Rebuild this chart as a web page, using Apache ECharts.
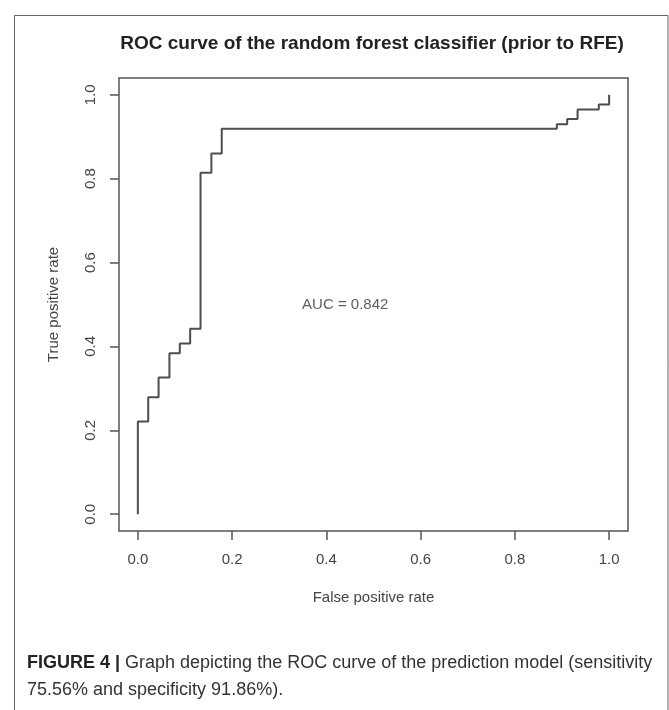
<!DOCTYPE html>
<html>
<head>
<meta charset="utf-8">
<script src="https://cdn.jsdelivr.net/npm/echarts@6/dist/echarts.min.js"></script>
<style>
html,body{margin:0;padding:0;background:#fff;}
#c{width:669px;height:710px;}
</style>
</head>
<body>
<div id="c"></div>
<script>
// ROC curve vertices (false positive rate, true positive rate), drawn as steps
var fpr = [0, 0, 0.022, 0.044, 0.067, 0.089, 0.111, 0.133, 0.156, 0.178, 0.889, 0.911, 0.933, 0.978, 1];
var tpr = [0, 0.221, 0.279, 0.326, 0.384, 0.407, 0.442, 0.814, 0.860, 0.919, 0.930, 0.942, 0.965, 0.977, 1];
var tickValues = [0, 0.2, 0.4, 0.6, 0.8, 1.0];
var aucLabel = 'AUC = 0.842';
var aucPos = [0.44, 0.5];
var titleText = 'ROC curve of the random forest classifier (prior to RFE)';
var xName = 'False positive rate';
var yName = 'True positive rate';
var captionBold = 'FIGURE 4 |';
var captionLine1 = ' Graph depicting the ROC curve of the prediction model (sensitivity';
var captionLine2 = '75.56% and specificity 91.86%).';

var rocData = fpr.map(function (x, i) { return [x, tpr[i]]; });
var ink = '#4d4d4d';
var txt = '#444';
var font = 'Liberation Sans, Arial, sans-serif';

var chart = echarts.init(document.getElementById('c'), null, {renderer: 'canvas'});
chart.setOption({
  backgroundColor: '#fff',
  animation: false,
  title: [{
    text: titleText,
    left: 372,
    top: 34,
    padding: 0,
    textAlign: 'center',
    textStyle: {fontFamily: font, fontWeight: 'bold', fontSize: 19, color: '#222'}
  }, {
    text: '{b|' + captionBold + '}{r|' + captionLine1 + '}\n{r|' + captionLine2 + '}',
    left: 27,
    top: 650,
    padding: 0,
    textStyle: {
      rich: {
        b: {fontFamily: font, fontWeight: 'bold', fontSize: 18, color: '#222', lineHeight: 27},
        r: {fontFamily: font, fontWeight: 'normal', fontSize: 18, color: '#333', lineHeight: 27}
      }
    }
  }],
  graphic: [{
    type: 'polyline',
    silent: true,
    shape: {points: [[14.5, 711], [14.5, 15.5], [668, 15.5], [668, 711]]},
    style: {stroke: '#666', lineWidth: 1, fill: null}
  }],
  grid: {
    left: 119, right: 41, top: 78, bottom: 179,
    show: true, borderColor: '#555', borderWidth: 1.5, backgroundColor: 'transparent'
  },
  xAxis: {
    type: 'value', min: -0.04, max: 1.04,
    splitLine: {show: false},
    axisLine: {show: false, onZero: false},
    axisTick: {show: true, inside: false, customValues: tickValues, length: 9, lineStyle: {color: '#555', width: 1.5}},
    axisLabel: {customValues: tickValues, margin: 21, fontSize: 15, fontFamily: font, color: txt,
      formatter: function (v) { return v.toFixed(1); }},
    name: xName, nameLocation: 'middle', nameGap: 59,
    nameTextStyle: {fontSize: 15, fontFamily: font, color: txt}
  },
  yAxis: {
    type: 'value', min: -0.04, max: 1.04,
    splitLine: {show: false},
    axisLine: {show: false, onZero: false},
    axisTick: {show: true, inside: false, customValues: tickValues, length: 9, lineStyle: {color: '#555', width: 1.5}},
    axisLabel: {customValues: tickValues, margin: 21, rotate: 90, fontSize: 15, fontFamily: font, color: txt,
      formatter: function (v) { return v.toFixed(1); }},
    name: yName, nameLocation: 'middle', nameGap: 58,
    nameTextStyle: {fontSize: 15, fontFamily: font, color: txt}
  },
  series: [{
    type: 'line',
    data: rocData,
    step: 'end',
    showSymbol: false,
    symbol: 'none',
    lineStyle: {color: ink, width: 2},
    silent: true
  }, {
    type: 'scatter',
    data: [aucPos],
    symbolSize: 0,
    silent: true,
    label: {show: true, position: 'inside', formatter: aucLabel, fontSize: 15, fontFamily: font, color: '#333'}
  }]
});
</script>
</body>
</html>
